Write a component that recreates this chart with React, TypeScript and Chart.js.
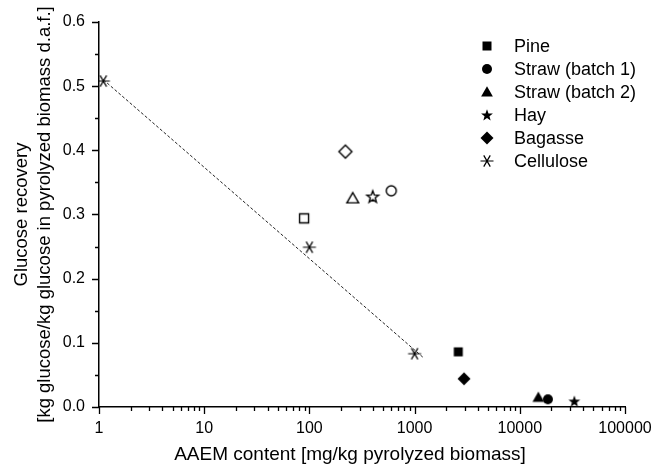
import React, { useEffect, useRef } from 'react';
import { Chart, registerables } from 'chart.js';

Chart.register(...registerables);

// ---------------- data ----------------
const seriesNames = ['Pine', 'Straw (batch 1)', 'Straw (batch 2)', 'Hay', 'Bagasse', 'Cellulose'];
const seriesShapes = ['square', 'circle', 'triangle', 'star', 'diamond', 'asterisk'];

// raw biomass (filled symbols)
const rawAAEM = [2600, 18500, 15000, 33000, 2950];
const rawGlucose = [0.086, 0.012, 0.015, 0.009, 0.044];

// pyrolyzed biomass (open symbols)
const pyroAAEM = [89, 600, 258, 400, 220];
const pyroGlucose = [0.294, 0.337, 0.325, 0.328, 0.398];

// cellulose
const celluloseAAEM = [1.1, 100, 1000];
const celluloseGlucose = [0.508, 0.249, 0.083];

// dotted trend line
const fitAAEM = [1.1, 1230];
const fitGlucose = [0.51, 0.076];

const xMajorTicks = [1, 10, 100, 1000, 10000, 100000];
const yMajorTicks = [0, 0.1, 0.2, 0.3, 0.4, 0.5, 0.6];

const xTitle = 'AAEM content [mg/kg pyrolyzed biomass]';
const yTitle = ['Glucose recovery', '[kg glucose/kg glucose in pyrolyzed biomass d.a.f.]'];

const FONT = "'Liberation Sans', Arial, sans-serif";

function makeMarker(shape: string, filled: boolean): HTMLCanvasElement {
  const s = 18;
  const c = document.createElement('canvas');
  c.width = s;
  c.height = s;
  const g = c.getContext('2d') as CanvasRenderingContext2D;
  const cx = s / 2;
  const cy = s / 2;
  g.strokeStyle = '#000';
  g.fillStyle = '#000';
  g.lineWidth = 1.4;
  g.lineJoin = 'miter';
  g.beginPath();
  if (shape === 'square') {
    g.rect(cx - 4.5, cy - 4.5, 9, 9);
  } else if (shape === 'circle') {
    g.arc(cx, cy, 5, 0, Math.PI * 2);
  } else if (shape === 'triangle') {
    const r = 6.8;
    for (let k = 0; k < 3; k++) {
      const a = -Math.PI / 2 + (k * 2 * Math.PI) / 3;
      const px = cx + r * Math.cos(a);
      const py = cy + 1 + r * Math.sin(a);
      if (k === 0) g.moveTo(px, py);
      else g.lineTo(px, py);
    }
    g.closePath();
  } else if (shape === 'diamond') {
    const r = 6.5;
    g.moveTo(cx, cy - r);
    g.lineTo(cx + r, cy);
    g.lineTo(cx, cy + r);
    g.lineTo(cx - r, cy);
    g.closePath();
  } else if (shape === 'star') {
    const ro = 6.2;
    const ri = 2.6;
    for (let k = 0; k < 10; k++) {
      const a = -Math.PI / 2 + (k * Math.PI) / 5;
      const r = k % 2 === 0 ? ro : ri;
      const px = cx + r * Math.cos(a);
      const py = cy + 0.5 + r * Math.sin(a);
      if (k === 0) g.moveTo(px, py);
      else g.lineTo(px, py);
    }
    g.closePath();
  } else if (shape === 'asterisk') {
    const r = 6.5;
    g.lineWidth = 1.2;
    for (let k = 0; k < 3; k++) {
      const a = (k * Math.PI) / 3;
      g.moveTo(cx - r * Math.cos(a), cy - r * Math.sin(a));
      g.lineTo(cx + r * Math.cos(a), cy + r * Math.sin(a));
    }
    g.stroke();
    return c;
  }
  if (filled) g.fill();
  else g.stroke();
  return c;
}

function buildTicks(): number[] {
  const out: number[] = [];
  for (let d = 0; d < xMajorTicks.length - 1; d++) {
    for (let m = 1; m <= 9; m++) out.push(xMajorTicks[d] * m);
  }
  out.push(xMajorTicks[xMajorTicks.length - 1]);
  return out;
}

export default function App() {
  const ref = useRef<HTMLCanvasElement | null>(null);

  useEffect(() => {
    if (!ref.current) return;
    const filledMarkers = seriesShapes.map((s) => makeMarker(s, true));
    const openMarkers = seriesShapes.map((s) => makeMarker(s, false));

    const datasets: any[] = [];
    for (let i = 0; i < rawAAEM.length; i++) {
      datasets.push({
        label: seriesNames[i] + ' raw',
        data: [{ x: rawAAEM[i], y: rawGlucose[i] }],
        pointStyle: filledMarkers[i],
        pointRadius: 6,
        showLine: false,
      });
      datasets.push({
        label: seriesNames[i] + ' pyrolyzed',
        data: [{ x: pyroAAEM[i], y: pyroGlucose[i] }],
        pointStyle: openMarkers[i],
        pointRadius: 6,
        showLine: false,
      });
    }
    datasets.push({
      label: 'fit',
      data: fitAAEM.map((x, i) => ({ x, y: fitGlucose[i] })),
      showLine: true,
      pointRadius: 0,
      borderColor: '#222',
      borderWidth: 1,
      borderDash: [3, 2],
      fill: false,
    });
    datasets.push({
      label: 'Cellulose',
      data: celluloseAAEM.map((x, i) => ({ x, y: celluloseGlucose[i] })),
      pointStyle: filledMarkers[5],
      pointRadius: 6,
      showLine: false,
    });

    const xTickVals = buildTicks();
    const yTickVals: number[] = [];
    for (let k = 0; k <= 12; k++) yTickVals.push(k * 0.05);

    const tickPlugin = {
      id: 'tickMarks',
      afterDraw(chart: any) {
        const ctx = chart.ctx;
        const xs = chart.scales.x;
        const ys = chart.scales.y;
        const area = chart.chartArea;
        ctx.save();
        ctx.strokeStyle = '#000';
        ctx.lineWidth = 1.3;
        ctx.beginPath();
        xTickVals.forEach((v) => {
          const px = Math.round(xs.getPixelForValue(v)) + 0.5;
          const major = xMajorTicks.includes(v);
          ctx.moveTo(px, area.bottom);
          ctx.lineTo(px, area.bottom + (major ? 7 : 4));
        });
        yTickVals.forEach((v, k) => {
          const py = Math.round(ys.getPixelForValue(v)) + 0.5;
          const major = k % 2 === 0;
          ctx.moveTo(area.left, py);
          ctx.lineTo(area.left - (major ? 7 : 4), py);
        });
        ctx.stroke();

        // x-axis title
        ctx.fillStyle = '#000';
        ctx.font = `19px ${FONT}`;
        ctx.textAlign = 'center';
        ctx.textBaseline = 'middle';
        ctx.fillText(xTitle, 350, 455);

        // legend
        const lx = 487;
        const tx = 514;
        const ly0 = 46;
        const step = 23;
        ctx.font = `18px ${FONT}`;
        ctx.textBaseline = 'middle';
        ctx.textAlign = 'left';
        seriesNames.forEach((name, i) => {
          const y = ly0 + i * step;
          const m = filledMarkers[i];
          ctx.drawImage(m, lx - m.width / 2, y - m.height / 2);
          ctx.fillText(name, tx, y + 1);
        });
        ctx.restore();
      },
    };

    const chart = new Chart(ref.current, {
      type: 'scatter',
      data: { datasets },
      options: {
        animation: false,
        responsive: false,
        maintainAspectRatio: false,
        layout: { padding: { top: 22, right: 29, left: 0, bottom: 0 } },
        plugins: { legend: { display: false }, tooltip: { enabled: false } },
        scales: {
          x: {
            type: 'logarithmic',
            min: 1,
            max: 100000,
            afterBuildTicks: (scale: any) => {
              scale.ticks = xTickVals.map((v) => ({ value: v, major: xMajorTicks.includes(v) }));
            },
            afterFit: (scale: any) => {
              scale.height = 61;
              scale.paddingLeft = 0;
              scale.paddingRight = 0;
            },
            grid: { display: false, drawTicks: false },
            border: { display: true, color: '#000', width: 1.5 },
            ticks: {
              autoSkip: false,
              maxRotation: 0,
              padding: 12,
              color: '#000',
              font: { size: 16, family: FONT },
              callback: (value: any) => (xMajorTicks.includes(Number(value)) ? String(value) : ''),
            },
            title: { display: false },
          },
          y: {
            type: 'linear',
            min: 0,
            max: 0.6,
            afterBuildTicks: (scale: any) => {
              scale.ticks = yMajorTicks.map((v) => ({ value: v }));
            },
            afterFit: (scale: any) => {
              scale.width = 99;
              scale.paddingTop = 0;
              scale.paddingBottom = 0;
            },
            grid: { display: false, drawTicks: false },
            border: { display: true, color: '#000', width: 1.5 },
            ticks: {
              padding: 14,
              color: '#000',
              font: { size: 16, family: FONT },
              callback: (value: any) => Number(value).toFixed(1),
            },
            title: {
              display: true,
              text: yTitle,
              color: '#000',
              font: { size: 18.5, family: FONT, lineHeight: 1.25 },
              padding: { top: 10, bottom: 0 },
            },
          },
        },
      },
      plugins: [tickPlugin],
    } as any);

    return () => chart.destroy();
  }, []);

  return (
    <div style={{ position: 'fixed', left: 0, top: 0, width: 654, height: 468, background: '#fff' }}>
      <canvas ref={ref} width={654} height={468} style={{ width: 654, height: 468, display: 'block' }} />
    </div>
  );
}
